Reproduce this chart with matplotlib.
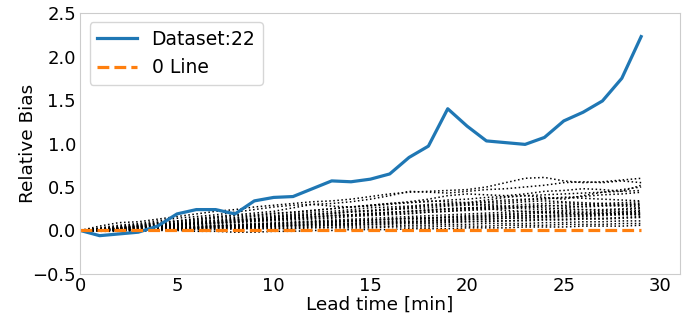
import numpy as np
import matplotlib
matplotlib.use("Agg")
import matplotlib.pyplot as plt

# lead times in minutes
lead_time = list(range(30))

# relative bias of the highlighted dataset
dataset_22 = [0.00, -0.06, -0.04, -0.02, 0.05, 0.19, 0.24, 0.24, 0.19, 0.34,
              0.38, 0.39, 0.48, 0.57, 0.56, 0.59, 0.65, 0.84, 0.97, 1.40,
              1.20, 1.03, 1.01, 0.99, 1.07, 1.26, 1.36, 1.49, 1.75, 2.23]

# relative bias of the remaining datasets
other_datasets = [
    [0, .05, .09, .10, .13, .16, .19, .22, .24, .27, .29, .31, .33, .34, .36,
     .39, .42, .44, .45, .46, .47, .50, .55, .60, .61, .57, .55, .56, .58, .60],
    [0, .03, .06, .08, .11, .14, .16, .18, .21, .24, .27, .29, .30, .31, .33,
     .36, .40, .45, .44, .43, .45, .47, .48, .50, .52, .55, .56, .55, .57, .55],
    [0, .02, .05, .07, .09, .11, .14, .16, .18, .20, .22, .26, .30, .28, .27,
     .29, .31, .33, .36, .40, .42, .41, .40, .42, .45, .46, .48, .47, .45, .52],
    [0, .02, .04, .06, .08, .10, .12, .14, .15, .17, .19, .21, .23, .25, .27,
     .28, .30, .32, .34, .33, .32, .35, .38, .40, .38, .36, .40, .44, .47, .50],
    [0, .01, .03, .05, .07, .09, .11, .12, .14, .16, .17, .19, .21, .22, .24,
     .26, .27, .28, .30, .31, .32, .33, .35, .36, .37, .38, .37, .36, .35, .34],
    [0, .02, .03, .05, .06, .08, .09, .11, .12, .13, .15, .16, .18, .19, .21,
     .22, .24, .25, .26, .28, .29, .30, .31, .33, .34, .33, .32, .31, .30, .30],
    [0, .01, .02, .04, .05, .07, .08, .09, .10, .12, .13, .14, .16, .17, .18,
     .19, .20, .22, .23, .24, .25, .27, .28, .30, .31, .32, .30, .29, .28, .27],
    [0, .01, .02, .03, .04, .05, .07, .08, .09, .10, .11, .12, .13, .14, .16,
     .17, .18, .19, .21, .22, .23, .24, .25, .27, .26, .25, .24, .23, .24, .25],
    [0, .01, .02, .03, .04, .05, .06, .06, .07, .08, .09, .10, .11, .12, .13,
     .14, .15, .16, .17, .18, .19, .20, .21, .22, .22, .23, .24, .24, .25, .26],
    [0, .00, .01, .02, .03, .04, .04, .05, .06, .07, .08, .09, .10, .10, .11,
     .12, .13, .14, .15, .15, .16, .17, .18, .19, .20, .20, .21, .22, .22, .23],
    [0, .01, .01, .02, .03, .03, .04, .05, .05, .06, .07, .07, .08, .09, .10,
     .10, .11, .12, .13, .13, .14, .15, .16, .17, .17, .18, .19, .19, .20, .21],
    [0, .00, .01, .01, .02, .02, .03, .04, .04, .05, .05, .06, .07, .07, .08,
     .09, .09, .10, .11, .11, .12, .13, .14, .14, .15, .16, .16, .17, .18, .18],
    [0, .00, .00, .01, .01, .02, .02, .03, .03, .04, .04, .05, .05, .06, .06,
     .07, .07, .08, .08, .09, .10, .10, .11, .11, .12, .12, .13, .13, .14, .15],
    [0, .00, .00, .01, .01, .01, .02, .02, .02, .03, .03, .03, .04, .04, .05,
     .05, .05, .06, .06, .07, .07, .08, .08, .08, .09, .09, .10, .10, .11, .11],
    [0, .00, .00, .00, .01, .01, .01, .01, .02, .02, .02, .02, .03, .03, .03,
     .03, .04, .04, .04, .05, .05, .05, .06, .06, .06, .07, .07, .07, .08, .08],
    [0, -.01, -.01, -.01, .00, .00, -.01, -.01, -.02, -.02, -.01, -.01, .00, .00, .01,
     .01, .01, .02, .02, .02, .03, .03, .03, .04, .04, .04, .05, .05, .05, .06],
    [0, .02, .04, .06, .09, .11, .13, .15, .17, .18, .20, .21, .23, .25, .27,
     .29, .31, .32, .33, .35, .36, .38, .39, .40, .41, .42, .43, .44, .45, .46],
    [0, .01, .03, .04, .06, .07, .09, .10, .12, .13, .15, .17, .18, .20, .22,
     .23, .24, .26, .28, .29, .30, .29, .28, .27, .28, .29, .30, .31, .32, .33],
    [0, .01, .02, .04, .05, .06, .08, .09, .10, .11, .13, .14, .15, .17, .18,
     .19, .21, .22, .24, .25, .26, .25, .23, .22, .21, .20, .19, .20, .21, .22],
    [0, .01, .02, .02, .03, .04, .05, .06, .06, .07, .08, .09, .10, .11, .12,
     .12, .13, .14, .14, .15, .15, .16, .16, .17, .17, .18, .18, .19, .19, .20],
    [0, .01, .03, .04, .05, .07, .08, .09, .11, .12, .13, .15, .16, .17, .18,
     .20, .21, .22, .23, .25, .26, .27, .26, .25, .24, .26, .28, .29, .30, .31],
    [0, .00, .01, .02, .03, .03, .04, .05, .06, .07, .07, .08, .09, .10, .11,
     .12, .13, .14, .14, .16, .17, .18, .19, .20, .21, .22, .21, .20, .19, .18],
    [0, .02, .03, .05, .07, .08, .10, .11, .13, .14, .16, .18, .19, .20, .22,
     .23, .25, .27, .29, .30, .31, .32, .33, .35, .36, .38, .39, .41, .42, .44],
    [0, .00, .01, .01, .02, .03, .03, .04, .04, .05, .06, .06, .07, .08, .08,
     .09, .10, .10, .11, .12, .13, .13, .14, .15, .16, .16, .17, .18, .19, .19],
    [0, .01, .02, .03, .05, .06, .07, .08, .09, .11, .12, .13, .14, .15, .17,
     .18, .19, .20, .21, .22, .24, .25, .26, .28, .29, .28, .27, .28, .29, .29],
    [0, .00, .00, .01, .02, .02, .03, .03, .04, .04, .05, .05, .06, .06, .07,
     .07, .08, .09, .09, .10, .10, .11, .11, .12, .13, .13, .14, .14, .15, .16],
]

zero_line = [0.0] * len(lead_time)

fig = plt.figure(figsize=(6.86, 3.2), dpi=100)
ax = fig.add_axes([0.117, 0.144, 0.874, 0.815])

for series in other_datasets:
    ax.plot(lead_time, series, color="black", linestyle=":", linewidth=1.1)

ax.plot(lead_time, dataset_22, color="#1f77b4", linewidth=2.3, label="Dataset:22")
ax.plot(lead_time, zero_line, color="#ff7f0e", linestyle="--", linewidth=2.3,
        label="0 Line")

ax.set_xlim(0, 31)
ax.set_ylim(-0.5, 2.5)
ax.set_xticks([0, 5, 10, 15, 20, 25, 30])
ax.set_yticks(np.arange(-0.5, 2.51, 0.5))
ax.tick_params(axis="both", length=0, labelsize=13)
ax.tick_params(axis="y", pad=3)
ax.tick_params(axis="x", pad=2)
for spine in ax.spines.values():
    spine.set_color("#cccccc")

ax.set_xlabel("Lead time [min]", fontsize=13.3, labelpad=1)
ax.set_ylabel("Relative Bias", fontsize=13.3)
ax.yaxis.set_label_coords(-0.072, 0.5)

ax.legend(loc="upper left", fontsize=13.5, handlelength=2.1)

fig.savefig("out.png", dpi=100)
